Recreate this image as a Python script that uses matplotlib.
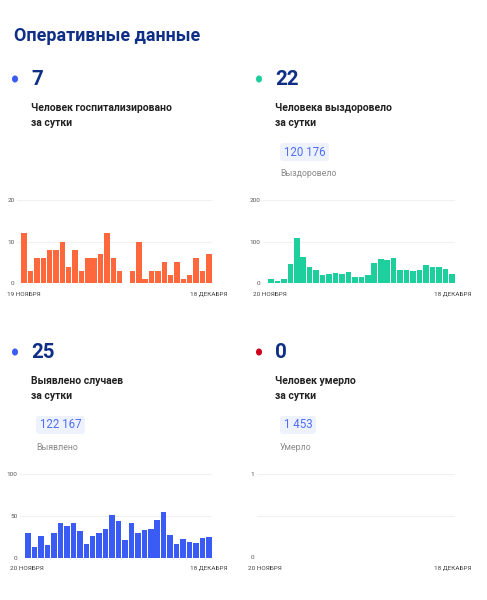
import matplotlib
matplotlib.use('Agg')
import numpy as np
from matplotlib import pyplot as plt

plt.rcParams['font.family'] = ['Roboto', 'DejaVu Sans']

# data
hosp = [12, 3, 6, 6, 8, 8, 10, 4, 8, 3, 6, 6, 7, 12, 6, 3, 0,
        3, 10, 1, 3, 3, 5, 2, 5, 1, 2, 6, 3, 7]
recovered = [10, 6, 11, 47, 108, 63, 40, 33, 19, 22, 25, 23, 28, 16, 15,
             20, 49, 59, 57, 60, 33, 31, 29, 32, 44, 39, 38, 34, 22]
cases = [29, 13, 26, 15, 30, 41, 38, 42, 32, 16, 26, 29, 34, 51, 44, 21,
         42, 29, 33, 34, 45, 55, 27, 16, 22, 19, 18, 24, 25]
deaths = [0] * 29

W, H = 487, 600
fig = plt.figure(figsize=(W / 100, H / 100), dpi=100)
fig.patch.set_facecolor('white')

NAVY = '#0f2f86'
BLUE = '#3a5cf5'
TEAL = '#1dcf9d'
ORANGE = '#ff683c'
RED = '#d0021b'


def box(x0, y0, x1, y1):
    # pixel box (top-left origin) -> figure rect
    return [x0 / W, 1 - y1 / H, (x1 - x0) / W, (y1 - y0) / H]


def ft(x, y, s, **kw):
    fig.text(x / W, 1 - y / H, s, **kw)


def panel(rect, vals, color, ymax, ticks, labels, offset, first, last, lx, ly):
    ax = fig.add_axes(box(*rect))
    n = len(vals)
    ax.bar(np.arange(n), vals, width=0.86, color=color, zorder=3)
    ax.set_xlim(-0.5 - offset, n - 0.5)
    ax.set_ylim(0, ymax)
    for t in ticks:
        ax.axhline(t, color='#f1f1f1', lw=0.8, zorder=1)
    ax.set_yticks(ticks)
    ax.set_yticklabels(labels)
    ax.tick_params(axis='y', length=0, pad=1.8, labelsize=4.6, labelcolor='#555555')
    ax.set_xticks([])
    for s in ax.spines.values():
        s.set_visible(False)
    ft(lx[0], ly, first, fontsize=4.6, color='#444444', va='center', ha='left')
    ft(lx[1], ly, last, fontsize=4.6, color='#444444', va='center', ha='right')
    return ax


panel((17, 200, 212, 283.3), hosp, ORANGE, 20, [0, 10, 20], ['0', '10', '20'],
      0.63, '19 НОЯБРЯ', '18 ДЕКАБРЯ', (7, 228), 294)
panel((263, 200, 455, 283.3), recovered, TEAL, 200, [0, 100, 200], ['0', '100', '200'],
      0.73, '20 НОЯБРЯ', '18 ДЕКАБРЯ', (253, 471), 294)
panel((20, 474, 212, 557.7), cases, BLUE, 100, [0, 50, 100], ['0', '50', '100'],
      0.78, '20 НОЯБРЯ', '18 ДЕКАБРЯ', (10, 228), 568)
panel((257, 474, 455, 557.3), deaths, RED, 1, [0, 0.5, 1], ['0', '', '1'],
      0.0, '20 НОЯБРЯ', '18 ДЕКАБРЯ', (248, 471), 568)

# header
ft(14, 36, 'Оперативные данные', fontsize=12.9, fontweight='bold', color=NAVY,
   va='center', ha='left')

# summary blocks
blocks = [
    (15, 79, BLUE, '7', ['Человек госпитализировано', 'за сутки'], None, None),
    (259, 79, TEAL, '22', ['Человека выздоровело', 'за сутки'], '120 176', 'Выздоровело'),
    (15, 352, BLUE, '25', ['Выявлено случаев', 'за сутки'], '122 167', 'Выявлено'),
    (259, 352, RED, '0', ['Человек умерло', 'за сутки'], '1 453', 'Умерло'),
]
for x, y, col, num, desc, total, cap in blocks:
    fig.patches.append(plt.Circle((x / W, 1 - y / H), 2.3 / W, color=col,
                                  transform=fig.transFigure, figure=fig))
    ft(x + 16, y + 0.5, num, fontsize=14.8, fontweight='bold', color=NAVY,
       va='center', ha='left')
    ft(x + 16, y + 29, desc[0], fontsize=7.5, fontweight='bold', color='#222222',
       va='center', ha='left')
    ft(x + 16, y + 44, desc[1], fontsize=7.5, fontweight='bold', color='#222222',
       va='center', ha='left')
    if total:
        bx = x + 21
        bw = 49 if len(total) > 5 else 36
        fig.patches.append(matplotlib.patches.FancyBboxPatch(
            (bx / W, 1 - (y + 82) / H), bw / W, 18 / H,
            boxstyle='round,pad=0,rounding_size=0.006', transform=fig.transFigure,
            facecolor='#eef2ff', edgecolor='none', figure=fig))
        ft(bx + bw / 2, y + 73, total, fontsize=8.3, color='#4f6ef7',
           va='center', ha='center')
        ft(bx, y + 95, cap, fontsize=6.3, color='#8a8a8a', va='center', ha='left')

plt.savefig('out.png', dpi=100)
